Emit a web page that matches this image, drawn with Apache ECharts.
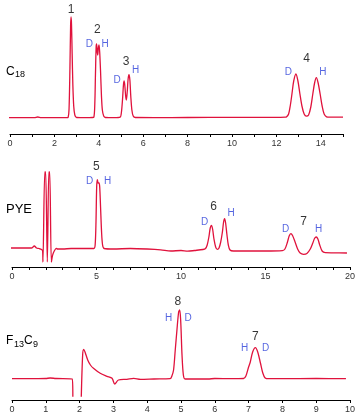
<!DOCTYPE html>
<html>
<head>
<meta charset="utf-8">
<script src="https://cdn.jsdelivr.net/npm/echarts@6/dist/echarts.min.js"></script>
<style>
html,body{margin:0;padding:0;background:#fff;}
#chart{width:360px;height:420px;}
</style>
</head>
<body>
<div id="chart"></div>
<script>
// ---- data (retention time [min], detector signal [arb.]) ----
const c18Trace = [
  [-0.45,16.3],[0.5,16.3],[1.1,16.4],[1.25,17],[1.4,16.4],[2.0,16.3],[2.55,16.3],
  [2.62,16.8],[2.66,25],[2.70,66],[2.73,108],[2.75,117],[2.77,110],[2.80,80],[2.83,50],[2.87,28],[2.92,19],[3.0,16.5],
  [3.4,16.3],[3.7,16.5],
  [3.78,17],[3.82,30],[3.85,60],[3.88,87],[3.90,90],[3.93,82],[3.95,79],[3.98,86],[4.01,89],[4.04,82],[4.08,62],[4.12,38],[4.16,24],[4.22,18],[4.3,16.5],
  [4.7,16.3],
  [4.96,16.8],[5.02,22],[5.07,35],[5.11,49],[5.14,53],[5.17,49],[5.21,38],[5.24,34],[5.28,42],[5.32,55],[5.36,59.3],[5.40,54],[5.44,38],[5.49,24],[5.55,18],[5.65,16.5],
  [6.5,16.4],[8,16.5],[10,16.6],[12,16.6],[12.4,16.8],
  [12.45,17],[12.55,20],[12.63,29],[12.70,40],[12.78,53],[12.88,60],[12.97,53],[13.06,40],[13.15,28],[13.25,20],[13.35,17.8],
  [13.45,19],[13.55,27],[13.64,40],[13.72,51],[13.8,56.3],[13.88,51],[13.97,40],[14.06,28],[14.15,20],[14.26,17.2],[14.4,16.8],[15.0,16.8]
];
const pyeTrace = [
  [-0.1,19],[0.6,19],[1.15,19],[1.32,21],[1.45,19],[1.6,18.5],[1.75,17.5],[1.81,16],
  [1.83,5],[1.94,95],[1.99,95],[2.09,5],[2.18,95],[2.23,95],[2.33,5],[2.40,11.7],[2.5,16],[2.62,18.7],[2.7,18],
  [3.0,18],[3.5,18.5],[4.0,18.5],[4.5,18.5],[4.85,18.5],
  [4.92,22],[4.97,45],[5.01,80],[5.05,87.4],[5.1,84],[5.15,84],[5.19,80],[5.24,60],[5.3,35],[5.36,22],[5.45,18.5],
  [6.0,18],[7,18.5],[8,18],[8.8,17.2],[9.4,16],[10,16.5],[10.4,15.8],[10.8,16.5],[11.3,17.5],
  [11.45,18.5],[11.55,22],[11.65,30],[11.73,39],[11.8,41.7],[11.87,38],[11.95,28],[12.05,20],[12.15,17.7],
  [12.25,19],[12.35,25],[12.45,35],[12.52,45],[12.58,48.4],[12.64,44],[12.72,32],[12.8,22],[12.9,17],
  [13.1,16],[14,16],[15,16],[16,16.4],
  [16.15,18],[16.3,25],[16.4,31],[16.5,33.4],[16.6,31.5],[16.75,25],[16.9,18],[17.05,14],[17.25,12.7],
  [17.45,13.5],[17.65,18],[17.8,24],[17.9,28.5],[18.0,30],[18.1,28],[18.2,22.5],[18.35,16],[18.54,14.4],[19.0,14.2],[19.82,14]
];
const f13Trace = [
  [0,21.3],[0.5,21.3],[1.0,21.5],[1.13,22],[1.3,21.5],[1.78,21],[1.80,3.3],[1.9,'-'],
  [2.05,3.3],[2.09,45],[2.12,50.7],[2.16,48],[2.24,40],[2.32,35],[2.41,31.7],[2.61,26.7],[2.81,23.7],[2.96,21.7],
  [3.04,16],[3.15,20],[3.4,20.7],[3.6,21.7],[3.8,20.7],[4.2,21],[4.68,21.3],
  [4.73,24],[4.78,30],[4.83,50],[4.88,70],[4.93,88],[4.96,90],[4.99,80],[5.03,45],[5.07,25],[5.12,21],
  [5.3,21],[5.8,21],[6.0,21.5],[6.5,21.3],[6.85,21.5],
  [6.92,24],[7.0,33],[7.05,38],[7.12,48],[7.2,52.3],[7.27,48],[7.35,37],[7.42,27],[7.49,22],[7.6,21.3],
  [8,21.3],[9,21.5],[9.88,21.3]
];

// peak annotations: [time, signal, text]
const c18PeakNums = [[2.75,124,'1'],[3.93,104.7,'2'],[5.23,72.3,'3'],[13.36,75,'4']];
const c18Enant = [[3.57,89.7,'D'],[4.28,89.7,'H'],[4.83,54,'D'],[5.66,64,'H'],[12.54,61.7,'D'],[14.09,61.7,'H']];
const pyePeakNums = [[4.99,100,'5'],[11.93,60,'6'],[17.25,45.7,'7']];
const pyeEnant = [[4.59,86,'D'],[5.66,86,'H'],[11.4,45,'D'],[12.96,53.4,'H'],[16.19,38,'D'],[18.14,37.4,'H']];
const f13PeakNums = [[4.91,98.3,'8'],[7.2,63.3,'7']];
const f13Enant = [[4.63,82,'H'],[5.21,82,'D'],[6.88,51.7,'H'],[7.5,51.7,'D']];

// axis ranges / tick labelling
const c18Axis = {min:0, max:15, labelEvery:2};
const pyeAxis = {min:0, max:20, labelEvery:5};
const f13Axis = {min:0, max:10, labelEvery:1};

const FONT = "'Liberation Sans', Arial, sans-serif";
const RED = '#e0123c';
const BLUE = '#2a3fd8';

function xAxisCfg(ax, gi){
  return {
    type:'value', gridIndex:gi, min:ax.min, max:ax.max, interval:1,
    axisLine:{show:true, onZero:false, lineStyle:{color:'#000', width:1}},
    axisTick:{show:true, length:3, lineStyle:{color:'#000', width:1}},
    splitLine:{show:false},
    axisLabel:{fontSize:9, color:'#333', margin:5, fontFamily:FONT,
      formatter:v => (Math.round(v) % ax.labelEvery === 0 && !(ax.labelEvery===2 && v===15)) ? String(v) : ''}
  };
}
function yAxisCfg(gi, max){ return {type:'value', gridIndex:gi, min:0, max:max, show:false}; }
function traceSeries(data, gi){
  return {type:'line', xAxisIndex:gi, yAxisIndex:gi, data:data, showSymbol:false, symbol:'none',
    smooth:0.3, clip:false, connectNulls:false, lineStyle:{color:RED, width:1.3}, silent:true, animation:false};
}
function labelSeries(arr, gi, color, size){
  return {type:'scatter', xAxisIndex:gi, yAxisIndex:gi, symbolSize:1, itemStyle:{color:'rgba(0,0,0,0)'}, silent:true, animation:false, clip:false,
    data:arr.map(a => ({value:[a[0],a[1]], name:a[2]})),
    label:{show:true, position:'inside', formatter:'{b}', color:color, fontSize:size, fontFamily:FONT},
    labelLayout:{hideOverlap:false}};
}
function txt(x, y, s, size){
  return {type:'text', silent:true, style:{x:x, y:y, text:s, fill:'#000', font: size + 'px ' + FONT, align:'left', verticalAlign:'middle'}};
}

const chart = echarts.init(document.getElementById('chart'), null, {renderer:'canvas'});
chart.setOption({
  animation:false,
  backgroundColor:'#fff',
  grid:[
    {left:10, right:17, top:4, height:130},
    {left:12, right:10, top:167, height:100},
    {left:12, right:10, top:300, height:100}
  ],
  xAxis:[xAxisCfg(c18Axis,0), xAxisCfg(pyeAxis,1), xAxisCfg(f13Axis,2)],
  yAxis:[yAxisCfg(0,130), yAxisCfg(1,100), yAxisCfg(2,100)],
  series:[
    traceSeries(c18Trace,0), traceSeries(pyeTrace,1), traceSeries(f13Trace,2),
    labelSeries(c18PeakNums,0,'#000',12), labelSeries(c18Enant,0,BLUE,10),
    labelSeries(pyePeakNums,1,'#000',12), labelSeries(pyeEnant,1,BLUE,10),
    labelSeries(f13PeakNums,2,'#000',12), labelSeries(f13Enant,2,BLUE,10)
  ],
  graphic:[
    txt(6,72,'C',12), txt(15,75,'18',9),
    txt(6,209,'PYE',13),
    txt(6,341,'F',12), txt(14,345,'13',9), txt(24,341,'C',12), txt(33,345,'9',9)
  ]
});
</script>
</body>
</html>
